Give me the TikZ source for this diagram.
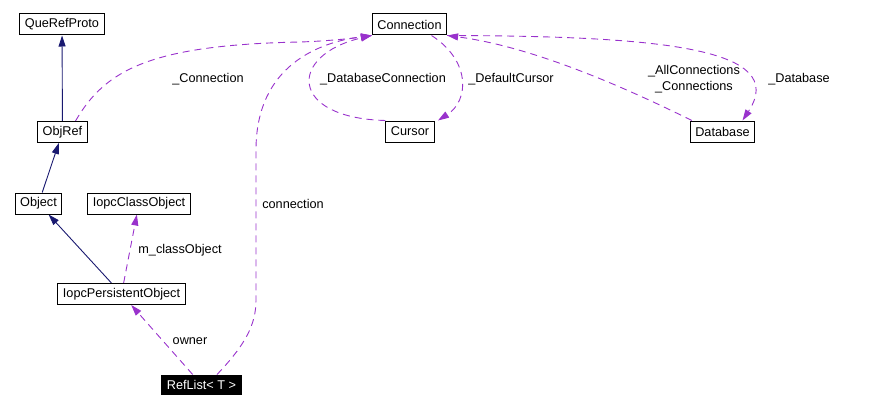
\documentclass[tikz,border=0pt]{standalone}
\usepackage{fontspec}
\setmainfont{Liberation Sans}
\usepackage{xcolor}
\usepackage{tikz}
\usetikzlibrary{arrows.meta}
\usetikzlibrary{backgrounds,positioning,calc}
\pgfdeclarelayer{edgelayer}
\pgfdeclarelayer{nodelayer}
\pgfsetlayers{background,edgelayer,nodelayer,main}
\definecolor{inheritcol}{RGB}{25,25,112}
\definecolor{usagecol}{RGB}{153,50,204}
\newcommand{\dgfont}{\fontsize{12.7}{16}\selectfont}
\tikzstyle{none}=[inner sep=0mm]
\tikzstyle{cls}=[draw=black,shape=rectangle,line width=1pt,inner xsep=5pt,inner ysep=0pt,minimum height=21pt,font=\dgfont]
\tikzstyle{focus}=[cls,fill=black,text=white,minimum height=19pt]
\tikzstyle{elabel}=[inner sep=0mm,font=\dgfont,align=center]
\tikzstyle{inherit}=[draw=inheritcol,line width=0.9pt,-{Triangle[length=11pt,width=7pt]}]
\tikzstyle{usage}=[draw=usagecol,line width=0.9pt,dash pattern=on 7pt off 5pt,-{Triangle[length=11pt,width=7pt]}]

\begin{document}
\begin{tikzpicture}[x=1pt,y=-1pt]
	\useasboundingbox (0,0) rectangle (885,409);
	\begin{pgfonlayer}{nodelayer}
		\node [style=cls] (querefproto) at (62, 24.5) {QueRefProto};
		\node [style=cls] (objref) at (62.5, 132) {ObjRef};
		\node [style=cls] (connection) at (409.5, 24.5) {Connection};
		\node [style=cls] (cursor) at (410, 131.5) {Cursor};
		\node [style=cls] (database) at (722.5, 131.5) {Database};
		\node [style=cls] (object) at (38.5, 203.5) {Object};
		\node [style=cls] (classobj) at (139, 203.5) {IopcClassObject};
		\node [style=cls] (persobj) at (121.5, 294) {IopcPersistentObject};
		\node [style=focus] (reflist) at (201.5, 384.5) {RefList< T >};
		% edge labels
		\node [style=elabel] (l_conn) at (208, 79) {\_Connection};
		\node [style=elabel] (l_connection) at (293, 204) {connection};
		\node [style=elabel] (l_dbconn) at (383, 79) {\_DatabaseConnection};
		\node [style=elabel] (l_defcursor) at (511, 79) {\_DefaultCursor};
		\node [style=elabel] (l_allconn) at (694, 79) {\_AllConnections\\\_Connections};
		\node [style=elabel] (l_database) at (799, 79) {\_Database};
		\node [style=elabel] (l_classobj) at (180, 250) {m\_classObject};
		\node [style=elabel] (l_owner) at (190, 341) {owner};
	\end{pgfonlayer}
	\begin{pgfonlayer}{edgelayer}
		\draw [style=inherit] (objref) to (querefproto);
		\draw [style=inherit] (object) to (objref);
		\draw [style=inherit] (persobj) to (object);
		\draw [style=usage] (persobj) to (classobj);
		\draw [style=usage] (reflist) to (persobj);
		\draw [style=usage] ([xshift=15.5pt]reflist.north) .. controls (245,345) and (256,325) .. (256,300)
			-- (256,150) .. controls (256,65) and (320,42) .. (connection.south west);
		\draw [style=usage] ([xshift=13pt]objref.north) .. controls (105,70) and (150,45) .. (300,42)
			.. controls (330,41) and (355,38) .. (connection.south west);
		\draw [style=usage] (cursor.north west) .. controls (288,118) and (288,55) .. (connection.south west);
		\draw [style=usage] ([xshift=22pt]connection.south) .. controls (470,60) and (470,100) .. ([xshift=28pt]cursor.north);
		\draw [style=usage] ([xshift=2pt]database.north west) .. controls (600,75) and (520,45) .. (connection.south east);
		\draw [style=usage] (connection.south east) .. controls (660,36) and (790,48) .. ([xshift=20pt]database.north);
	\end{pgfonlayer}
\end{tikzpicture}
\end{document}
